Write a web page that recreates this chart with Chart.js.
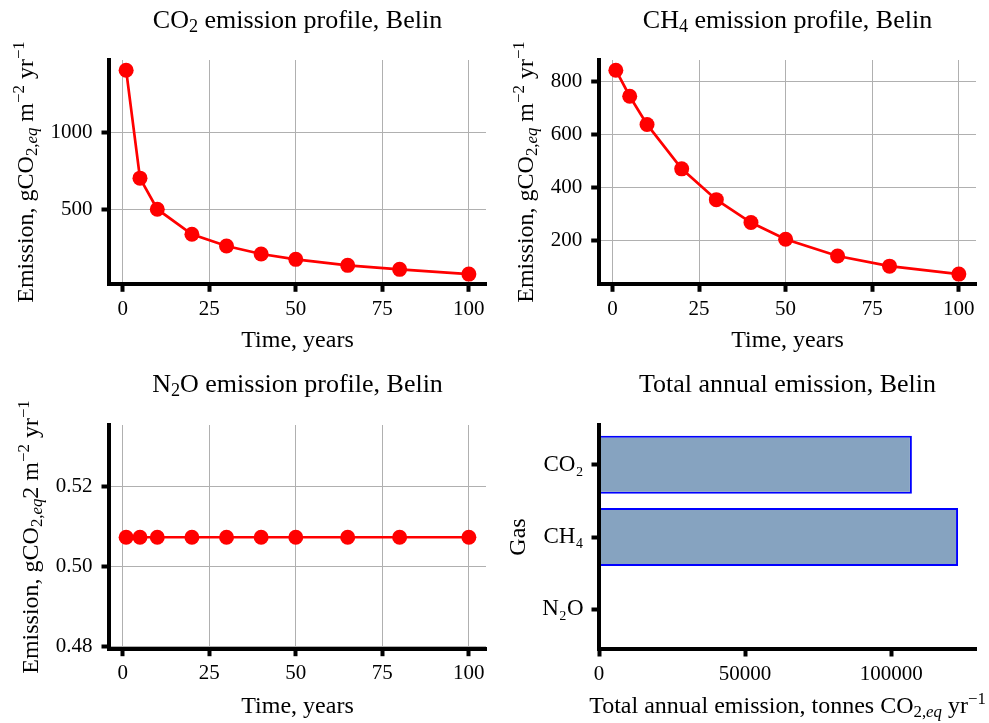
<!DOCTYPE html>
<html>
<head>
<meta charset="utf-8">
<title>Emission profiles, Belin</title>
<script src="https://cdn.jsdelivr.net/npm/chart.js@4/dist/chart.umd.min.js"></script>
<style>
  html, body { margin: 0; padding: 0; background: #fff; }
  #fig {
    position: relative; width: 989px; height: 723px; overflow: hidden;
    font-family: "Liberation Serif", "DejaVu Serif", serif; color: #000;
  }
  #fig canvas { position: absolute; }
  /* labels are anchored at the centre of their baseline */
  .lbl {
    position: absolute; white-space: nowrap; line-height: 1;
    transform-origin: 0 0; transform: translate(-50%, -0.8375em);
  }
  .lbl.rot { transform: rotate(-90deg) translate(-50%, -0.8375em); }
  .title { font-size: 26px; }
  .axis  { font-size: 24px; }
  .lbl sub, .lbl sup { font-size: 0.7em; line-height: 0; vertical-align: baseline; position: relative; }
  .lbl sub { top: 0.22em; }
  .lbl sup { top: -0.55em; }
</style>
</head>
<body>
<div id="fig">
  <canvas id="cCO2"></canvas>
  <canvas id="cCH4"></canvas>
  <canvas id="cN2O"></canvas>
  <canvas id="cTotal"></canvas>

  <div class="lbl title" style="left:297.5px;top:29px">CO<sub>2</sub> emission profile, Belin</div>
  <div class="lbl title" style="left:787.5px;top:29px">CH<sub>4</sub> emission profile, Belin</div>
  <div class="lbl title" style="left:297.5px;top:393px">N<sub>2</sub>O emission profile, Belin</div>
  <div class="lbl title" style="left:787.5px;top:393px">Total annual emission, Belin</div>

  <div class="lbl axis" style="left:297.5px;top:347px">Time, years</div>
  <div class="lbl axis" style="left:787.5px;top:347px">Time, years</div>
  <div class="lbl axis" style="left:297.5px;top:713px">Time, years</div>
  <div class="lbl axis" style="left:787.5px;top:713px">Total annual emission, tonnes CO<sub>2,<i>eq</i></sub> yr<sup>−1</sup></div>

  <div class="lbl axis rot" style="left:33px;top:172px">Emission, gCO<sub>2,<i>eq</i></sub> m<sup>−2</sup> yr<sup>−1</sup></div>
  <div class="lbl axis rot" style="left:533px;top:172px">Emission, gCO<sub>2,<i>eq</i></sub> m<sup>−2</sup> yr<sup>−1</sup></div>
  <div class="lbl axis rot" style="left:38px;top:537px">Emission, gCO<sub>2,<i>eq</i></sub>2 m<sup>−2</sup> yr<sup>−1</sup></div>
  <div class="lbl axis rot" style="left:525px;top:537px">Gas</div>
</div>

<script>
// ---- Data ----
const years      = [1, 5, 10, 20, 30, 40, 50, 65, 80, 100];
const co2Profile = [1404, 702, 500, 337, 261, 209, 174, 135, 109, 78];
const ch4Profile = [841, 743, 637, 470, 354, 268, 205, 142, 104, 74];
const n2oProfile = [0.5073, 0.5073, 0.5073, 0.5073, 0.5073, 0.5073, 0.5073, 0.5073, 0.5073, 0.5073];

const gases         = ["CO₂", "CH₄", "N₂O"];
const totalEmission = [107100, 122900, 0];

const yearTicks  = [0, 25, 50, 75, 100];
const co2Ticks   = [500, 1000];
const ch4Ticks   = [200, 400, 600, 800];
const n2oTicks   = [0.48, 0.50, 0.52];
const totalTicks = [0, 50000, 100000];
const n2oRange   = [0.4794, 0.5354];

// ---- Defaults ----
Chart.defaults.font.family = "'Liberation Serif', 'DejaVu Serif', serif";
Chart.defaults.font.size = 21;
Chart.defaults.color = "#000";

const GRID = "#b0b0b0";
const RED  = "#ff0000";
const X_AXIS_H = 50;

// matplotlib-style 5 % margins
function padRange(vals) {
  const lo = Math.min(...vals), hi = Math.max(...vals);
  const m = (hi - lo) * 0.05;
  return [lo - m, hi + m];
}

function axis(range, ticks, fmt, pad, gridOn) {
  return {
    type: "linear",
    min: range[0],
    max: range[1],
    offset: false,
    afterBuildTicks: s => { s.ticks = ticks.map(v => ({ value: v })); },
    ticks: { callback: fmt, padding: pad, color: "#000", autoSkip: false, maxRotation: 0 },
    grid: {
      display: true, offset: false, drawOnChartArea: gridOn, color: GRID, lineWidth: 1,
      tickColor: "#000", tickWidth: 4, tickLength: 7.5
    },
    border: { display: true, color: "#000", width: 4, z: 1 }
  };
}

// box = canvas rect on the page, area = wanted plot area [left, top, right, bottom]
function panel(id, box, area, cfg) {
  const [bx, by, bw, bh] = box;
  const [l, t, r, b] = area;
  const cv = document.getElementById(id);
  cv.width = bw; cv.height = bh;
  cv.style.left = bx + "px";
  cv.style.top  = by + "px";
  cfg.options.responsive = false;
  cfg.options.animation = false;
  cfg.options.devicePixelRatio = 1;
  cfg.options.events = [];
  cfg.options.plugins = { legend: { display: false }, tooltip: { enabled: false } };
  cfg.options.layout = { padding: { left: 0, top: t - by, right: bx + bw - r, bottom: by + bh - b - X_AXIS_H } };
  cfg.options.scales.x.afterFit = s => { s.height = X_AXIS_H; };
  cfg.options.scales.y.afterFit = s => { s.width = l - bx; };
  return new Chart(cv, cfg);
}

function profile(id, box, area, values, yRange, yTicks, yFmt) {
  return panel(id, box, area, {
    type: "line",
    data: {
      datasets: [{
        data: years.map((x, i) => ({ x, y: values[i] })),
        borderColor: RED,
        backgroundColor: RED,
        borderWidth: 2.7,
        pointRadius: 7.5,
        pointBorderWidth: 0,
        pointBackgroundColor: RED,
        tension: 0
      }]
    },
    options: {
      scales: {
        x: axis(padRange(years), yearTicks, v => String(v), 5, true),
        y: axis(yRange, yTicks, yFmt, 9, true)
      }
    }
  });
}

profile("cCO2", [0, 0, 494, 362],   [109, 60, 486, 284.3],    co2Profile, padRange(co2Profile), co2Ticks, v => String(v));
profile("cCH4", [494, 0, 495, 362], [598.7, 60, 976, 284.3],  ch4Profile, padRange(ch4Profile), ch4Ticks, v => String(v));
profile("cN2O", [0, 362, 494, 361], [109, 425, 486, 648.7],   n2oProfile, n2oRange, n2oTicks, v => v.toFixed(2));

// ---- Total annual emission (horizontal bars) ----
const totalY = axis([-0.55, 2.55], [0, 1, 2], v => gases[v], 8, false);
totalY.reverse = true;
totalY.ticks.font = { size: 23 };

panel("cTotal", [494, 362, 495, 361], [599, 425, 976, 649], {
  type: "bar",
  data: {
    datasets: [{
      data: gases.map((g, i) => ({ x: totalEmission[i], y: i })),
      backgroundColor: "#86a3c0",
      borderColor: "#0000ff",
      borderWidth: 2,
      borderSkipped: "start",
      categoryPercentage: 1,
      barPercentage: 0.8
    }]
  },
  options: {
    indexAxis: "y",
    scales: {
      x: axis([0, Math.max(...totalEmission) * 1.05], totalTicks, v => String(v), 5, false),
      y: totalY
    }
  }
});
</script>
</body>
</html>
